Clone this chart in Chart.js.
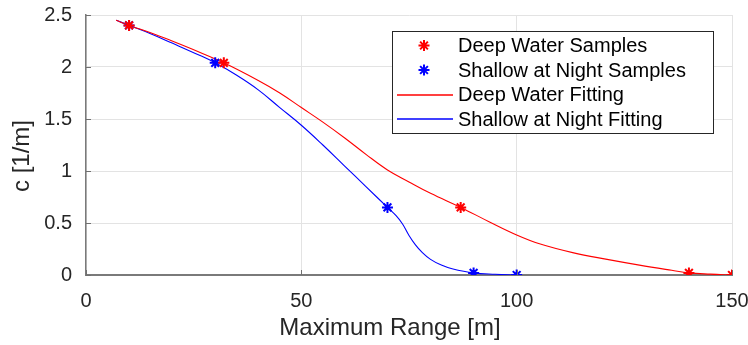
<!DOCTYPE html>
<html>
<head>
<meta charset="utf-8">
<script src="https://cdn.jsdelivr.net/npm/chart.js@4/dist/chart.umd.min.js"></script>
<style>
  html, body { margin: 0; padding: 0; background: #fff; }
  #wrap { width: 748px; height: 345px; position: relative; }
</style>
</head>
<body>
<div id="wrap"><canvas id="c" width="748" height="345"></canvas></div>
<script>
// ---- data ----
const xTicks = [0, 50, 100, 150];
const xTickLabels = ['0', '50', '100', '150'];
const yTicks = [0, 0.5, 1, 1.5, 2, 2.5];
const yTickLabels = ['0', '0.5', '1', '1.5', '2', '2.5'];

const deepSampleX = [10, 32, 87, 140, 150];
const deepSampleY = [2.40, 2.04, 0.65, 0.02, 0.0];

const shallowSampleX = [10, 30, 70, 90, 100];
const shallowSampleY = [2.40, 2.04, 0.65, 0.02, 0.0];

const deepFitX = [7, 10, 15, 20, 26.5, 32, 40, 45, 50, 55, 60, 65, 70, 75, 80, 87, 93.7, 100, 105.3, 113, 121, 128.5, 136, 140, 145, 150];
const deepFitY = [2.45, 2.40, 2.33, 2.25, 2.14, 2.04, 1.87, 1.75, 1.61, 1.47, 1.32, 1.16, 1.01, 0.895, 0.785, 0.65, 0.51, 0.385, 0.30, 0.215, 0.15, 0.095, 0.045, 0.02, 0.008, 0.0];

const shallowFitX = [7, 10, 15, 20, 26.5, 30, 35, 40, 45, 50, 55, 60, 65, 70, 72, 73.5, 75, 76.5, 78, 80, 82.5, 85, 90, 95, 100];
const shallowFitY = [2.45, 2.40, 2.32, 2.23, 2.11, 2.04, 1.92, 1.78, 1.61, 1.44, 1.25, 1.05, 0.85, 0.65, 0.57, 0.49, 0.38, 0.29, 0.22, 0.15, 0.095, 0.06, 0.02, 0.007, 0.0];

const seriesLabels = ['Deep Water Samples', 'Shallow at Night Samples', 'Deep Water Fitting', 'Shallow at Night Fitting'];
const xTitle = 'Maximum Range [m]';
const yTitle = 'c [1/m]';

const toPts = (xs, ys) => xs.map((x, i) => ({ x: x, y: ys[i] }));

const RED = '#ff0000';
const BLUE = '#0000ff';
const seriesColors = [RED, BLUE, RED, BLUE];
const seriesIsMarker = [true, true, false, false];
const TXT = '#262626';
const FONT = '"Liberation Sans", Arial, Helvetica, sans-serif';

// inward tick marks (MATLAB style) + axis titles
const innerTicks = {
  id: 'innerTicks',
  afterDatasetsDraw(chart) {
    const { ctx, chartArea, scales } = chart;
    ctx.save();
    ctx.strokeStyle = '#707070';
    ctx.lineWidth = 1;
    ctx.beginPath();
    yTicks.forEach(v => {
      const y = Math.round(scales.y.getPixelForValue(v)) + 0.5;
      ctx.moveTo(chartArea.left, y);
      ctx.lineTo(chartArea.left + 5, y);
    });
    xTicks.forEach(v => {
      const x = Math.round(scales.x.getPixelForValue(v)) + 0.5;
      ctx.moveTo(x, chartArea.bottom);
      ctx.lineTo(x, chartArea.bottom - 5);
    });
    ctx.stroke();

    // axis titles
    ctx.fillStyle = TXT;
    ctx.font = '24px ' + FONT;
    ctx.textAlign = 'center';
    ctx.textBaseline = 'middle';
    ctx.fillText(xTitle, 390, 328);
    ctx.translate(22, 156);
    ctx.rotate(-Math.PI / 2);
    ctx.fillText(yTitle, 0, 0);
    ctx.restore();
  }
};

// legend box inside the plot (top right)
const boxLegend = {
  id: 'boxLegend',
  afterDraw(chart) {
    const { ctx } = chart;
    const left = 392.5, top = 31.5, w = 321, h = 102;
    ctx.save();
    ctx.fillStyle = '#fff';
    ctx.fillRect(left, top, w, h);
    ctx.strokeStyle = '#262626';
    ctx.lineWidth = 1;
    ctx.strokeRect(left, top, w, h);
    const rowY = [45.5, 70, 94.5, 119];
    seriesLabels.forEach((label, i) => {
      const y = rowY[i];
      const col = seriesColors[i];
      ctx.strokeStyle = col;
      ctx.fillStyle = col;
      if (seriesIsMarker[i]) {
        ctx.lineWidth = 2;
        Chart.helpers.drawPoint(ctx, {
          pointStyle: 'star', radius: 5.5, borderWidth: 2
        }, 424, y);
      } else {
        ctx.lineWidth = 1.3;
        ctx.beginPath();
        ctx.moveTo(397, Math.round(y));
        ctx.lineTo(453, Math.round(y));
        ctx.stroke();
      }
      ctx.font = '20px ' + FONT;
      ctx.textBaseline = 'middle';
      ctx.textAlign = 'left';
      ctx.fillStyle = '#000';
      ctx.fillText(label, 458, y + 1);
    });
    ctx.restore();
  }
};

new Chart(document.getElementById('c'), {
  type: 'scatter',
  data: {
    datasets: [
      {
        label: seriesLabels[0],
        data: toPts(deepSampleX, deepSampleY),
        showLine: false,
        pointStyle: 'star', pointRadius: 5.5, pointBorderWidth: 2,
        pointBorderColor: RED, pointBackgroundColor: RED, borderColor: RED
      },
      {
        label: seriesLabels[1],
        data: toPts(shallowSampleX, shallowSampleY),
        showLine: false,
        pointStyle: 'star', pointRadius: 5.5, pointBorderWidth: 2,
        pointBorderColor: BLUE, pointBackgroundColor: BLUE, borderColor: BLUE
      },
      {
        label: seriesLabels[2],
        data: toPts(deepFitX, deepFitY),
        showLine: true, pointRadius: 0,
        borderColor: RED, borderWidth: 1.1,
        tension: 0.4, fill: false
      },
      {
        label: seriesLabels[3],
        data: toPts(shallowFitX, shallowFitY),
        showLine: true, pointRadius: 0,
        borderColor: BLUE, borderWidth: 1.1,
        tension: 0.4, fill: false
      }
    ]
  },
  options: {
    responsive: false,
    animation: false,
    events: [],
    layout: { padding: { left: 0, right: 16, top: 15, bottom: 0 } },
    plugins: { legend: { display: false }, tooltip: { enabled: false } },
    scales: {
      x: {
        type: 'linear', min: 0, max: 150,
        afterBuildTicks: s => { s.ticks = xTicks.map(v => ({ value: v })); },
        afterFit: s => { s.height = 70; s.paddingLeft = 0; s.paddingRight = 0; },
        ticks: {
          color: TXT, font: { family: FONT, size: 20 }, padding: 14, maxRotation: 0,
          callback: v => { const i = xTicks.indexOf(v); return i >= 0 ? xTickLabels[i] : ''; }
        },
        grid: { color: '#e3e3e3', drawTicks: false },
        border: { display: true, color: '#7a7a7a', width: 2 },
        title: { display: false, text: xTitle }
      },
      y: {
        type: 'linear', min: 0, max: 2.5,
        afterBuildTicks: s => { s.ticks = yTicks.map(v => ({ value: v })); },
        afterFit: s => { s.width = 86; s.paddingTop = 0; s.paddingBottom = 0; },
        ticks: {
          color: TXT, font: { family: FONT, size: 20 }, padding: 14,
          callback: v => { const i = yTicks.indexOf(v); return i >= 0 ? yTickLabels[i] : ''; }
        },
        grid: { color: '#e3e3e3', drawTicks: false },
        border: { display: true, color: '#7a7a7a', width: 1.5 },
        title: { display: false, text: yTitle }
      }
    }
  },
  plugins: [innerTicks, boxLegend]
});
</script>
</body>
</html>
